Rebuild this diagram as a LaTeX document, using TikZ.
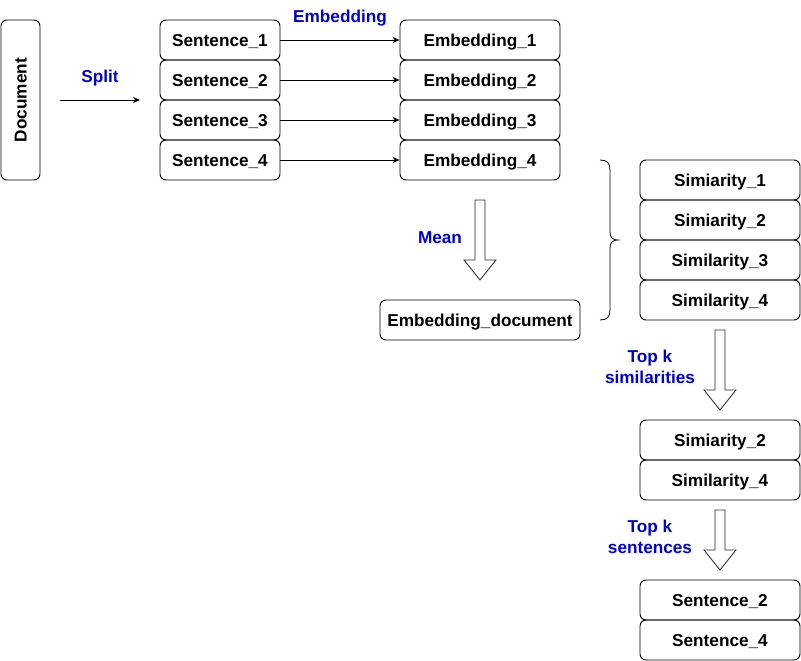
\documentclass[tikz,border=0pt]{standalone}
\usepackage{fontspec}
\setmainfont{Liberation Sans}
\usetikzlibrary{arrows.meta}
\definecolor{lblblue}{HTML}{0000CC}
\tikzset{
  box/.style={draw, line width=0.9pt, rounded corners=6pt, font=\fontsize{17.2}{19}\selectfont\bfseries, inner sep=0pt, align=center, text height=12.2pt, text depth=0pt},
  lbl/.style={text=lblblue, font=\fontsize{17.2}{21}\selectfont\bfseries, align=center, inner sep=0pt, yshift=-2pt},
  conn/.style={-{Stealth[length=7pt,width=6pt]}, line width=0.8pt},
  blockarrow/.style={draw=black!85, line width=0.8pt, fill=white},
}
\begin{document}
\begin{tikzpicture}[x=1pt,y=-1pt]
\useasboundingbox (0,0) rectangle (801,661);
% document
\node[box, rotate=90, minimum width=160pt, minimum height=39pt] (doc) at (20.5,100) {Document};
\coordinate (splitA) at (60,100);
\coordinate (splitB) at (140,100);
\draw[conn] (splitA) -- (splitB);
\node[lbl] (splitl) at (100,76) {Split};
% sentences and embeddings
\foreach \i/\y in {1/40,2/80,3/120,4/160}{
  \node[box, minimum width=120pt, minimum height=40pt] (s\i) at (220,\y) {Sentence\_\i};
  \node[box, minimum width=160pt, minimum height=40pt] (e\i) at (480,\y) {Embedding\_\i};
  \draw[conn] (s\i.east) -- (e\i.west);
}
\node[lbl] (embl) at (340,16) {Embedding};
% mean arrow
\draw[blockarrow] (475,200) -- (485,200) -- (485,260) -- (496,260) -- (480,280) -- (464,260) -- (475,260) -- cycle;
\node[lbl] (meanl) at (440,236) {Mean};
\node[box, minimum width=200pt, minimum height=40pt] (ed) at (480,320) {Embedding\_document};
% brace
\draw[line width=0.8pt] (600,160) .. controls (607,160) and (610,163) .. (610,170) -- (610,232) .. controls (610,238) and (613,240) .. (618,240) .. controls (613,240) and (610,242) .. (610,248) -- (610,310) .. controls (610,317) and (607,320) .. (600,320);
% similarities
\node[box, minimum width=160pt, minimum height=40pt] (m1) at (720,180) {Simiarity\_1};
\node[box, minimum width=160pt, minimum height=40pt] (m2) at (720,220) {Simiarity\_2};
\node[box, minimum width=160pt, minimum height=40pt] (m3) at (720,260) {Similarity\_3};
\node[box, minimum width=160pt, minimum height=40pt] (m4) at (720,300) {Similarity\_4};
\draw[blockarrow] (715,330) -- (725,330) -- (725,390) -- (736,390) -- (720,410) -- (704,390) -- (715,390) -- cycle;
\node[lbl, yshift=2pt] (topk1) at (650,366.5) {Top k\\similarities};
\node[box, minimum width=160pt, minimum height=40pt] (k2) at (720,440) {Simiarity\_2};
\node[box, minimum width=160pt, minimum height=40pt] (k4) at (720,480) {Similarity\_4};
\draw[blockarrow] (715,510) -- (725,510) -- (725,550) -- (736,550) -- (720,570) -- (704,550) -- (715,550) -- cycle;
\node[lbl, yshift=2pt] (topk2) at (650,536.5) {Top k\\sentences};
\node[box, minimum width=160pt, minimum height=40pt] (t2) at (720,600) {Sentence\_2};
\node[box, minimum width=160pt, minimum height=40pt] (t4) at (720,640) {Sentence\_4};
\end{tikzpicture}
\end{document}
